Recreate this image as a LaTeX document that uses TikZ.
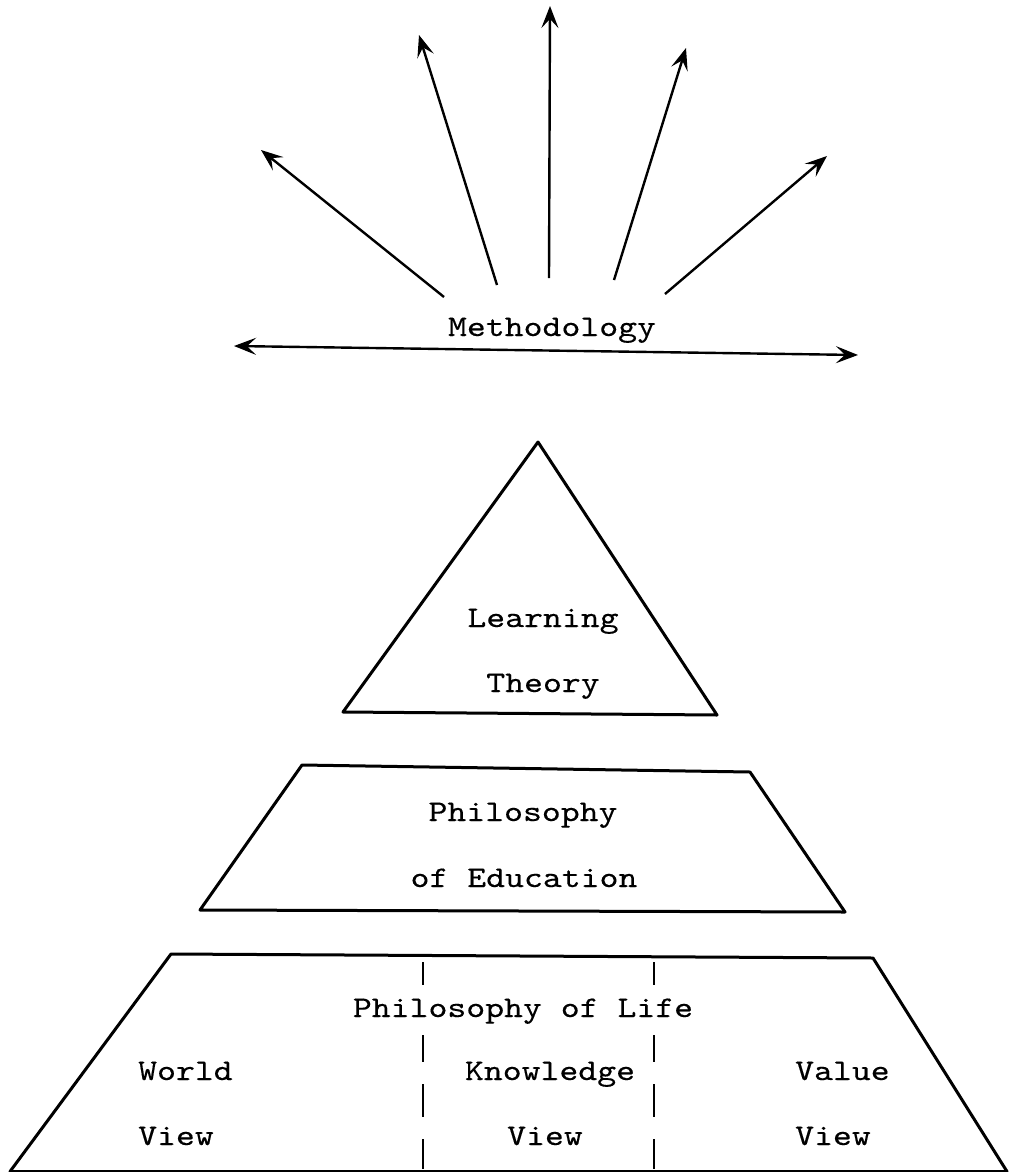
\documentclass[tikz,border=0pt]{standalone}
\usepackage{fontspec}
\setmonofont{lmmono10-regular.otf}[FakeStretch=1.2, FakeBold=0.3]
\usepackage{tikz}
\usetikzlibrary{arrows.meta, positioning}

\begin{document}
\begin{tikzpicture}[
        x=1pt, y=-1pt,
        >={Stealth[length=22pt, width=17pt, inset=9pt]}, % Arrow style
        % Define styles
        label/.style={inner sep=0pt, anchor=base, font=\ttfamily\fontsize{30}{36}\selectfont},
        left label/.style={label, anchor=base west},
        outline/.style={line width=3pt, line join=round},
        ray/.style={line width=2.4pt, ->},
        divider/.style={line width=2.2pt, dash pattern=on 23pt off 50pt on 27pt off 22pt on 33pt off 22pt on 30pt off 40pt}
    ]
    \useasboundingbox (0,0) rectangle (1010,1172);

    % --- Methodology ---

    \node[label] (Method) at (552,336) {Methodology};

    % Ends of the rays
    \coordinate (t1) at (444,297);  \coordinate (h1) at (261,150);
    \coordinate (t2) at (497,285);  \coordinate (h2) at (419,35);
    \coordinate (t3) at (549,278);  \coordinate (h3) at (550,6);
    \coordinate (t4) at (614,280);  \coordinate (h4) at (686,48);
    \coordinate (t5) at (665,294);  \coordinate (h5) at (827,156);

    % Ends of the base line
    \coordinate (bl) at (234,346);
    \coordinate (br) at (858,355);

    % --- Learning Theory (triangle) ---

    \coordinate (tri top) at (538,442);
    \coordinate (tri left) at (343,712);
    \coordinate (tri right) at (717,715);
    \node[label] (Learning) at (543,627) {Learning};
    \node[label] (Theory) at (543,692) {Theory};

    % --- Philosophy of Education ---

    \coordinate (edu tl) at (302,765);
    \coordinate (edu tr) at (750,772);
    \coordinate (edu br) at (845,912);
    \coordinate (edu bl) at (200,910);
    \node[label] (PhilEdu) at (523,821) {Philosophy};
    \node[label] (OfEdu) at (524,887) {of Education};

    % --- Philosophy of Life ---

    \coordinate (life tl) at (171,954);
    \coordinate (life tr) at (873,958);
    \coordinate (life br) at (1007,1171.5);
    \coordinate (life bl) at (10,1171.5);
    \node[label] (PhilLife) at (523,1017) {Philosophy of Life};

    % Columns
    \node[left label] (World) at (138,1080) {World};
    \node[left label] (WorldView) at (138,1145) {View};
    \node[label] (Knowledge) at (550,1080) {Knowledge};
    \node[label] (KnowView) at (545,1145) {View};
    \node[left label] (Value) at (795,1080) {Value};
    \node[left label] (ValueView) at (795,1145) {View};

    \coordinate (d1 top) at (423,962);
    \coordinate (d1 bot) at (423,1169);
    \coordinate (d2 top) at (654,962);
    \coordinate (d2 bot) at (654,1169);

    % --- Drawing ---

    % Rays
    \draw[ray] (t1) -- (h1);
    \draw[ray] (t2) -- (h2);
    \draw[ray] (t3) -- (h3);
    \draw[ray] (t4) -- (h4);
    \draw[ray] (t5) -- (h5);
    \draw[ray, <->] (bl) -- (br);

    % Shapes
    \draw[outline] (tri top) -- (tri left) -- (tri right) -- cycle;
    \draw[outline] (edu tl) -- (edu tr) -- (edu br) -- (edu bl) -- cycle;
    \draw[outline] (life tl) -- (life tr) -- (life br) -- (life bl) -- cycle;

    % Dividers
    \draw[divider] (d1 top) -- (d1 bot);
    \draw[divider] (d2 top) -- (d2 bot);

\end{tikzpicture}
\end{document}
